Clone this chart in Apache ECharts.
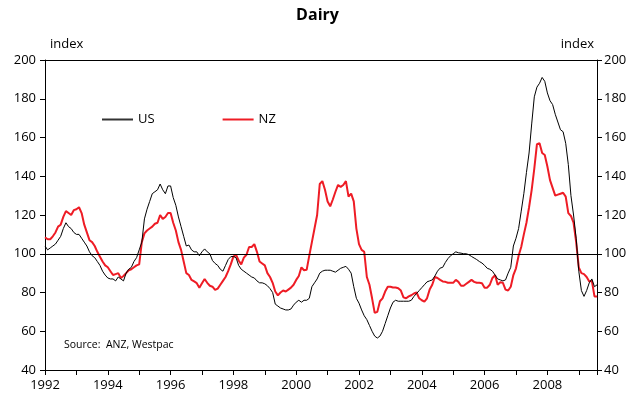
<!DOCTYPE html>
<html>
<head>
<meta charset="utf-8">
<title>Dairy</title>
<script src="https://cdn.jsdelivr.net/npm/echarts@6/dist/echarts.min.js"></script>
<style>
  html, body { margin: 0; padding: 0; background: #fff; }
  #dairy { width: 635px; height: 405px; }
</style>
</head>
<body>
<div id="dairy"></div>
<script>
  // monthly index, Jan 1992 onwards
  var startYear = 1992;
  var usIndex = [
    104, 102, 103, 104, 105, 107, 109, 113, 116, 114, 113, 111,
    110, 110, 108, 106, 104, 101, 99, 98, 96, 94, 91, 89,
    87.5, 87, 87, 86, 88, 87, 86, 90, 92, 93, 96, 98,
    102, 106, 118, 123, 127, 131, 132, 133, 136, 133, 131, 135,
    135, 129, 125, 119, 114, 109, 104, 104.5, 102, 101, 101, 99,
    101, 102.5, 101, 100, 96.5, 95, 94, 92, 91, 94, 97, 98.5,
    98.6, 98, 94, 92, 91, 90, 89, 88, 87.5, 86, 85, 85,
    84.5, 83.5, 82, 80, 74, 73, 72, 71.5, 71, 71, 71.5, 73.5,
    75, 76, 75, 76, 76, 77, 83, 85, 87, 90, 91, 91.5,
    91.5, 91.5, 91, 90.5, 91.5, 92.5, 93, 93.5, 92, 90, 83, 77,
    74.5, 71, 68, 66, 63, 60, 57.5, 56.5, 57.5, 60, 64, 68,
    72, 75, 76, 75.5, 75.5, 75.5, 75.5, 75.5, 76, 78, 79.5, 81,
    82.5, 84, 85.5, 86, 86.5, 88.5, 91, 92.6, 93, 95.5, 97.5, 99,
    100, 101, 100.5, 100.3, 100, 100, 99.5, 98.6, 97.8, 97, 96, 95.2,
    94, 92.5, 92, 91, 89, 87, 86.5, 86, 86.5, 90, 93, 104,
    108, 113, 122, 131, 142, 152, 167, 181, 186, 188, 191, 189,
    183, 179, 177, 172, 168, 164, 163, 157, 146, 130, 120, 108,
    91, 81, 78, 81, 85, 87, 83, 84
  ];
  var nzIndex = [
    108.5, 107.5, 107.5, 109, 111, 114, 115, 119, 122, 121, 120, 122.5,
    123, 124, 121, 115, 111, 107, 106, 104, 101, 98.5, 96, 94,
    93, 91, 89, 89.5, 90, 87.5, 88.5, 90, 91.5, 92, 93, 94,
    94.5, 106, 110.5, 112, 113, 114, 115.5, 116, 120, 118, 119, 121,
    121, 116, 112, 106, 102, 96, 90, 89, 86.5, 85.7, 84.8, 82.5,
    84.8, 87, 85, 83.5, 83, 81.3, 82, 84, 86, 88, 91, 94.5,
    98.5, 99.5, 96.5, 94.5, 98, 99.5, 103.5, 103.5, 105, 101, 96, 95,
    94, 90, 88, 85, 80.5, 78.5, 80, 81, 80.5, 81.5, 82.5, 84,
    86.5, 88.5, 93, 91.5, 91.7, 99, 106, 113, 120, 136, 137.5, 133,
    127, 124.5, 128, 132, 135.5, 134.5, 135.5, 137.5, 129.5, 131, 127, 113,
    105, 102, 101, 88, 84, 77, 69.5, 70, 75.5, 77, 80.5, 83,
    83, 82.6, 82.6, 82.2, 81, 77.5, 77, 78, 78.6, 79.5, 80, 77,
    76, 75.3, 77, 81.5, 84, 88, 87.5, 86.5, 85.7, 85.5, 85, 85,
    85, 86.5, 85.5, 83.5, 83.5, 84.5, 85.5, 86.5, 85.5, 85, 85, 84.8,
    82.5, 82.5, 84, 87.5, 89, 84, 85.3, 85, 81.5, 81, 83, 89,
    92.5, 99, 103.5, 110, 116, 124, 133, 144, 156.5, 157, 152, 151,
    145, 138, 134, 130, 130.5, 131, 131.5, 129.5, 121, 119.5, 116, 106,
    93, 90, 89.5, 88, 85.7, 86, 78, 78
  ];
  var yearTicks = [1992, 1994, 1996, 1998, 2000, 2002, 2004, 2006, 2008];

  function toPoints(list) {
    var out = [];
    for (var i = 0; i < list.length; i++) {
      out.push([startYear + i / 12, list[i]]);
    }
    return out;
  }

  var fontName = 'Open Sans';
  var myChart = echarts.init(document.getElementById('dairy'));
  myChart.setOption({
    animation: false,
    title: {
      text: 'Dairy',
      left: 'center',
      top: 2,
      textStyle: { fontFamily: fontName, fontSize: 16, fontWeight: 'bold', color: '#000' }
    },
    legend: {
      left: 102,
      top: 113,
      padding: 0,
      icon: 'rect',
      itemWidth: 31,
      itemHeight: 2,
      itemGap: 68,
      textStyle: { fontFamily: fontName, fontSize: 13, color: '#000' },
      data: [
        { name: 'US', itemStyle: { color: '#333' } },
        { name: 'NZ', itemStyle: { color: '#ee1c25' } }
      ]
    },
    grid: { left: 45, right: 38, top: 60, bottom: 35 },
    graphic: [
      { type: 'text', left: 50, top: 38, style: { text: 'index', fontFamily: fontName, fontSize: 13, fill: '#000' } },
      { type: 'text', right: 41, top: 38, style: { text: 'index', fontFamily: fontName, fontSize: 13, fill: '#000' } },
      { type: 'text', left: 64, top: 340, style: { text: 'Source:  ANZ, Westpac', fontFamily: fontName, fontSize: 10.5, fill: '#000' } }
    ],
    xAxis: [
      {
        type: 'value',
        min: 1992,
        max: 2009.58,
        interval: 1,
        axisLine: { lineStyle: { color: '#000', width: 1 } },
        axisTick: { show: true, inside: false, length: 5, lineStyle: { color: '#000' } },
        axisLabel: {
          margin: 9,
          color: '#000',
          fontFamily: fontName,
          fontSize: 13,
          formatter: function (v) {
            return yearTicks.indexOf(v) >= 0 ? String(v) : '';
          }
        },
        splitLine: { show: false }
      },
      {
        type: 'value',
        position: 'top',
        min: 1992,
        max: 2009.58,
        axisLine: { show: true, onZero: false, lineStyle: { color: '#000', width: 1 } },
        axisTick: { show: false },
        axisLabel: { show: false },
        splitLine: { show: false }
      }
    ],
    yAxis: [
      {
        type: 'value',
        min: 40,
        max: 200,
        interval: 20,
        axisLine: { show: true, lineStyle: { color: '#000', width: 1 } },
        axisTick: { show: true, length: 5, lineStyle: { color: '#000' } },
        axisLabel: { margin: 9, color: '#000', fontFamily: fontName, fontSize: 13 },
        splitLine: { show: false }
      },
      {
        type: 'value',
        position: 'right',
        min: 40,
        max: 200,
        interval: 20,
        axisLine: { show: true, lineStyle: { color: '#000', width: 1 } },
        axisTick: { show: true, length: 5, lineStyle: { color: '#000' } },
        axisLabel: { margin: 7, color: '#000', fontFamily: fontName, fontSize: 13 },
        splitLine: { show: false }
      }
    ],
    series: [
      {
        name: 'US',
        type: 'line',
        data: toPoints(usIndex),
        symbol: 'none',
        color: '#000',
        lineStyle: { color: '#000', width: 1 },
        z: 3,
        markLine: {
          silent: true,
          symbol: 'none',
          label: { show: false },
          lineStyle: { color: '#000', width: 1.2, type: 'solid' },
          data: [{ yAxis: 100 }]
        }
      },
      {
        name: 'NZ',
        type: 'line',
        data: toPoints(nzIndex),
        symbol: 'none',
        color: '#ee1c25',
        lineStyle: { color: '#ee1c25', width: 2 },
        z: 2
      }
    ]
  });
</script>
</body>
</html>
